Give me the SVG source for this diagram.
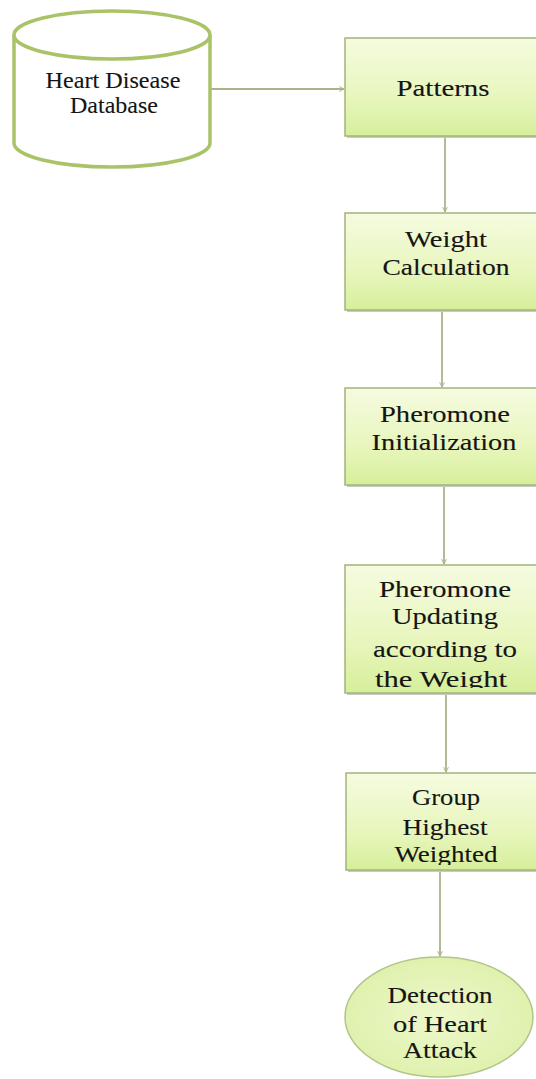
<svg xmlns="http://www.w3.org/2000/svg" width="536" height="1079" viewBox="0 0 536 1079">
<defs>
<style>
.box{fill:url(#g);stroke:#a4b47a;stroke-width:1.5}
.shadow{fill:#c8cbbf}
.t{font-family:"Liberation Serif","DejaVu Serif",serif;font-size:23px;fill:#141414;stroke:#141414;stroke-width:0.12;text-anchor:middle}
.conn{fill:none;stroke:#aab48a;stroke-width:1.8;marker-end:url(#arr)}
</style>
<linearGradient id="g" x1="0" y1="0" x2="0" y2="1">
<stop offset="0" stop-color="#f5fbe0"/>
<stop offset="0.6" stop-color="#e8f6bd"/>
<stop offset="1" stop-color="#d6ef9a"/>
</linearGradient>
<radialGradient id="eg" cx="0.5" cy="0.5" r="0.6">
<stop offset="0" stop-color="#eef8cc"/>
<stop offset="1" stop-color="#dcf0a8"/>
</radialGradient>
<marker id="arr" viewBox="0 0 10 10" refX="9" refY="5" markerWidth="6" markerHeight="6" markerUnits="userSpaceOnUse" orient="auto">
<path d="M1,1 L9,5 L1,9" fill="none" stroke="#aab48a" stroke-width="1.6"/>
</marker>
<clipPath id="c4"><rect x="345" y="565" width="200" height="123"/></clipPath>
<clipPath id="c5"><rect x="345" y="773" width="200" height="92"/></clipPath>
</defs>

<g id="connectors">
<line class="conn" x1="210" y1="89" x2="344" y2="89"/>
<line class="conn" x1="445" y1="137" x2="445" y2="212"/>
<line class="conn" x1="442" y1="311" x2="442" y2="387"/>
<line class="conn" x1="444" y1="486" x2="444" y2="564"/>
<line class="conn" x1="446" y1="694" x2="446" y2="772"/>
<line class="conn" x1="440" y1="871" x2="440" y2="956"/>
</g>

<g id="database">
<path d="M14,35 L14,143 A98,24 0 0 0 210,143 L210,35" fill="#ffffff" stroke="#a9c468" stroke-width="3.5"/>
<ellipse cx="112" cy="35" rx="98" ry="24" fill="#ffffff" stroke="#a9c468" stroke-width="3.5"/>
<text class="t" x="113" y="88" font-size="21" textLength="135" lengthAdjust="spacingAndGlyphs">Heart Disease</text>
<text class="t" x="114" y="113" font-size="21" textLength="88" lengthAdjust="spacingAndGlyphs">Database</text>
</g>

<g id="patterns">
<rect class="shadow" x="347" y="40" width="200" height="98"/>
<rect class="box" x="345" y="38" width="200" height="98"/>
<text class="t" x="443" y="96" textLength="93" lengthAdjust="spacingAndGlyphs">Patterns</text>
</g>

<g id="weight">
<rect class="shadow" x="347" y="215" width="200" height="97"/>
<rect class="box" x="345" y="213" width="200" height="97"/>
<text class="t" x="446" y="247" textLength="82" lengthAdjust="spacingAndGlyphs">Weight</text>
<text class="t" x="446" y="275" textLength="127" lengthAdjust="spacingAndGlyphs">Calculation</text>
</g>

<g id="init">
<rect class="shadow" x="347" y="390" width="200" height="97"/>
<rect class="box" x="345" y="388" width="200" height="97"/>
<text class="t" x="445" y="422" textLength="130" lengthAdjust="spacingAndGlyphs">Pheromone</text>
<text class="t" x="444" y="450" textLength="145" lengthAdjust="spacingAndGlyphs">Initialization</text>
</g>

<g id="updating">
<rect class="shadow" x="347" y="567" width="200" height="128"/>
<rect class="box" x="345" y="565" width="200" height="128"/>
<g clip-path="url(#c4)">
<text class="t" x="445" y="597" textLength="132" lengthAdjust="spacingAndGlyphs">Pheromone</text>
<text class="t" x="445" y="624" textLength="106" lengthAdjust="spacingAndGlyphs">Updating</text>
<text class="t" x="445" y="657" textLength="144" lengthAdjust="spacingAndGlyphs">according to</text>
<text class="t" x="441" y="687" textLength="132" lengthAdjust="spacingAndGlyphs">the Weight</text>
</g>
</g>

<g id="group">
<rect class="shadow" x="348" y="775" width="200" height="97"/>
<rect class="box" x="346" y="773" width="200" height="97"/>
<g clip-path="url(#c5)">
<text class="t" x="446" y="805" textLength="68" lengthAdjust="spacingAndGlyphs">Group</text>
<text class="t" x="445" y="835" textLength="85" lengthAdjust="spacingAndGlyphs">Highest</text>
<text class="t" x="446" y="862" textLength="103" lengthAdjust="spacingAndGlyphs">Weighted</text>
</g>
</g>

<g id="detection">
<ellipse cx="439" cy="1017" rx="94" ry="60" fill="url(#eg)" stroke="#b3c48a" stroke-width="1.5"/>
<text class="t" x="440" y="1003" textLength="105" lengthAdjust="spacingAndGlyphs">Detection</text>
<text class="t" x="440" y="1032" textLength="94" lengthAdjust="spacingAndGlyphs">of Heart</text>
<text class="t" x="440" y="1058" textLength="74" lengthAdjust="spacingAndGlyphs">Attack</text>
</g>
</svg>
